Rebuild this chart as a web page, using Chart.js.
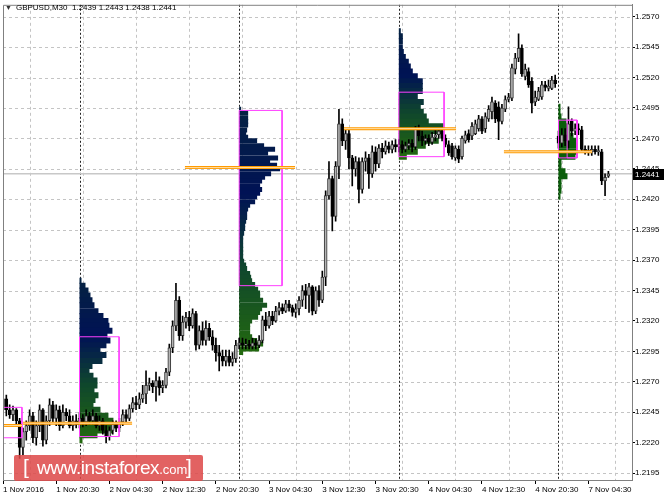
<!DOCTYPE html>
<html>
<head>
<meta charset="utf-8">
<script src="https://cdn.jsdelivr.net/npm/chart.js@4.4.0/dist/chart.umd.min.js"></script>
<style>
  html, body { margin: 0; padding: 0; background: #fff; }
  #wrap { position: relative; width: 664px; height: 498px; overflow: hidden; }
  #title { position: absolute; left: 5px; top: 3px; font: 8px "Liberation Sans", sans-serif; color: #000; white-space: pre; }
  #title .tri { font-size: 7px; color: #333; margin-right: 4px; }
  #logo { position: absolute; left: 14px; top: 455px; width: 189px; height: 26px; background: rgba(221, 72, 72, 0.86);
          border-radius: 2px; color: #fff; font-family: "Liberation Sans", sans-serif; }
  #logo span { position: absolute; }
  #logo .b1 { left: 9px; top: 0px; font-size: 21px; }
  #logo .site { left: 23px; top: 2px; font-size: 19px; letter-spacing: -0.4px; }
  #logo .site small { font-size: 13px; letter-spacing: 0; }
  #logo .b2 { left: 172px; top: 0px; font-size: 21px; }
</style>
</head>
<body>
<div id="wrap">
  <canvas id="chart" width="664" height="498"></canvas>
  <div id="title"></div>
  <div id="logo"><span class="b1">[</span><span class="site">www.instaforex<small>.com</small></span><span class="b2">]</span></div>
</div>
<script>
// GBPUSD M30, one bar every 30 min, bar 0 = 2 Nov 00:00
const symbol = "GBPUSD,M30";
const firstBar = -23;

const open = [
  1.2247,1.2256,1.2247,1.2243,1.2247,1.2238,1.2216,1.2229,1.2234,1.2242,1.2224,1.2234,1.2247,1.2222,1.2238,1.2251,1.2240,1.2247,1.2234,1.2245,1.2242,1.2234,1.2238,
  1.2235,1.2240,1.2237,1.2242,1.2238,1.2242,1.2234,1.2238,1.2230,1.2225,1.2230,1.2235,1.2232,1.2237,1.2243,1.2240,1.2248,1.2253,1.2251,1.2256,1.2260,1.2267,1.2269,1.2266,1.2271,1.2265,1.2267,1.2278,1.2298,1.2316,1.2337,1.2308,1.2319,1.2323,1.2316,1.2326,1.2300,1.2312,1.2304,1.2314,1.2307,1.2300,1.2294,1.2291,1.2287,1.2291,1.2286,1.2289,
  1.2300,1.2302,1.2300,1.2301,1.2299,1.2302,1.2300,1.2304,1.2321,1.2316,1.2324,1.2320,1.2328,1.2331,1.2328,1.2334,1.2331,1.2327,1.2330,1.2337,1.2345,1.2341,1.2348,1.2328,1.2345,1.2337,1.2356,1.2423,1.2437,1.2406,1.2447,1.2482,1.2468,1.2474,1.2454,1.2445,1.2451,1.2428,1.2451,1.2454,1.2441,1.2459,1.2449,1.2462,1.2459,1.2464,1.2461,1.2465,
  1.2463,1.2465,1.2461,1.2464,1.2466,1.2463,1.2478,1.2472,1.2468,1.2470,1.2467,1.2471,1.2473,1.2476,1.2470,1.2465,1.2464,1.2454,1.2461,1.2455,1.2468,1.2474,1.2472,1.2474,1.2478,1.2486,1.2478,1.2486,1.2492,1.2499,1.2496,1.2484,1.2494,1.2502,1.2503,1.2527,1.2536,1.2544,1.2521,1.2525,1.2517,1.2500,1.2502,1.2504,1.2514,1.2511,1.2511,1.2518,
  1.2472,1.2466,1.2473,1.2468,1.2484,1.2476,1.2478,1.2477,1.2461,1.2460,1.2459,1.2461,1.2459,1.2459,1.2435,1.2439
];
const high = [
  1.2263,1.2259,1.2251,1.2250,1.2248,1.2240,1.2232,1.2238,1.2247,1.2245,1.2238,1.2251,1.2248,1.2242,1.2256,1.2254,1.2251,1.2250,1.2251,1.2248,1.2247,1.2242,1.2243,
  1.2245,1.2243,1.2247,1.2245,1.2247,1.2244,1.2242,1.2240,1.2234,1.2233,1.2238,1.2238,1.2240,1.2247,1.2247,1.2251,1.2257,1.2258,1.2261,1.2267,1.2279,1.2273,1.2271,1.2278,1.2274,1.2271,1.2281,1.2301,1.2320,1.2351,1.2340,1.2324,1.2327,1.2328,1.2330,1.2328,1.2316,1.2319,1.2320,1.2318,1.2312,1.2306,1.2300,1.2296,1.2296,1.2296,1.2294,1.2304,
  1.2306,1.2306,1.2305,1.2304,1.2306,1.2305,1.2308,1.2324,1.2327,1.2328,1.2328,1.2332,1.2335,1.2334,1.2337,1.2337,1.2333,1.2334,1.2340,1.2349,1.2350,1.2351,1.2349,1.2348,1.2349,1.2361,1.2427,1.2451,1.2439,1.2451,1.2494,1.2486,1.2478,1.2478,1.2456,1.2455,1.2454,1.2454,1.2459,1.2457,1.2464,1.2463,1.2465,1.2466,1.2468,1.2467,1.2468,1.2469,
  1.2469,1.2468,1.2467,1.2469,1.2469,1.2480,1.2481,1.2476,1.2473,1.2473,1.2475,1.2478,1.2478,1.2478,1.2473,1.2468,1.2466,1.2464,1.2464,1.2472,1.2476,1.2477,1.2483,1.2485,1.2489,1.2488,1.2491,1.2497,1.2504,1.2501,1.2500,1.2498,1.2505,1.2507,1.2531,1.2540,1.2556,1.2547,1.2531,1.2528,1.2520,1.2509,1.2512,1.2517,1.2517,1.2518,1.2521,1.2522,
  1.2476,1.2478,1.2478,1.2496,1.2486,1.2482,1.2482,1.2480,1.2464,1.2464,1.2464,1.2464,1.2464,1.2461,1.2441,1.2443
];
const low = [
  1.2245,1.2242,1.2240,1.2238,1.2235,1.2207,1.2210,1.2222,1.2230,1.2220,1.2218,1.2229,1.2217,1.2219,1.2234,1.2237,1.2234,1.2230,1.2232,1.2238,1.2232,1.2230,1.2232,
  1.2232,1.2233,1.2234,1.2235,1.2235,1.2232,1.2230,1.2227,1.2220,1.2222,1.2227,1.2229,1.2229,1.2234,1.2237,1.2238,1.2245,1.2247,1.2248,1.2253,1.2252,1.2263,1.2261,1.2254,1.2259,1.2261,1.2265,1.2275,1.2294,1.2312,1.2304,1.2304,1.2314,1.2312,1.2314,1.2296,1.2297,1.2300,1.2300,1.2304,1.2296,1.2287,1.2279,1.2283,1.2283,1.2283,1.2283,1.2286,
  1.2297,1.2297,1.2297,1.2297,1.2297,1.2297,1.2298,1.2302,1.2312,1.2314,1.2317,1.2319,1.2325,1.2326,1.2327,1.2328,1.2324,1.2323,1.2325,1.2332,1.2330,1.2327,1.2325,1.2326,1.2332,1.2335,1.2349,1.2420,1.2394,1.2402,1.2437,1.2464,1.2461,1.2445,1.2431,1.2439,1.2417,1.2425,1.2443,1.2429,1.2438,1.2443,1.2446,1.2454,1.2457,1.2458,1.2458,1.2459,
  1.2459,1.2458,1.2459,1.2461,1.2459,1.2461,1.2468,1.2464,1.2465,1.2464,1.2465,1.2468,1.2470,1.2468,1.2463,1.2456,1.2453,1.2452,1.2450,1.2453,1.2466,1.2467,1.2469,1.2473,1.2476,1.2474,1.2475,1.2484,1.2486,1.2483,1.2469,1.2482,1.2492,1.2500,1.2501,1.2523,1.2533,1.2521,1.2518,1.2512,1.2491,1.2497,1.2501,1.2502,1.2509,1.2509,1.2510,1.2512,
  1.2462,1.2463,1.2464,1.2462,1.2472,1.2473,1.2473,1.2459,1.2457,1.2456,1.2456,1.2457,1.2456,1.2432,1.2423,1.2438
];
const close = [
  1.2256,1.2247,1.2243,1.2247,1.2238,1.2216,1.2229,1.2234,1.2242,1.2224,1.2234,1.2247,1.2222,1.2238,1.2251,1.2240,1.2247,1.2234,1.2245,1.2242,1.2234,1.2238,1.2235,
  1.2240,1.2237,1.2242,1.2238,1.2242,1.2234,1.2238,1.2230,1.2225,1.2230,1.2235,1.2232,1.2237,1.2243,1.2240,1.2248,1.2253,1.2251,1.2256,1.2260,1.2267,1.2269,1.2266,1.2271,1.2265,1.2267,1.2278,1.2298,1.2316,1.2337,1.2308,1.2319,1.2323,1.2316,1.2326,1.2300,1.2312,1.2304,1.2314,1.2307,1.2300,1.2294,1.2291,1.2287,1.2291,1.2286,1.2289,1.2300,
  1.2302,1.2300,1.2301,1.2299,1.2302,1.2300,1.2304,1.2321,1.2316,1.2324,1.2320,1.2328,1.2331,1.2328,1.2334,1.2331,1.2327,1.2330,1.2337,1.2345,1.2341,1.2348,1.2328,1.2345,1.2337,1.2356,1.2423,1.2437,1.2406,1.2447,1.2482,1.2468,1.2474,1.2454,1.2445,1.2451,1.2428,1.2451,1.2454,1.2441,1.2459,1.2449,1.2462,1.2459,1.2464,1.2461,1.2465,1.2463,
  1.2465,1.2461,1.2464,1.2466,1.2463,1.2478,1.2472,1.2468,1.2470,1.2467,1.2471,1.2473,1.2476,1.2470,1.2465,1.2458,1.2455,1.2462,1.2453,1.2470,1.2473,1.2469,1.2480,1.2482,1.2486,1.2476,1.2488,1.2494,1.2500,1.2486,1.2484,1.2495,1.2502,1.2504,1.2528,1.2536,1.2544,1.2523,1.2527,1.2514,1.2499,1.2504,1.2509,1.2514,1.2512,1.2513,1.2518,1.2515,
  1.2466,1.2473,1.2468,1.2482,1.2476,1.2478,1.2477,1.2461,1.2460,1.2459,1.2461,1.2459,1.2460,1.2435,1.2438,1.2441
];

// axis
const tickBars = [-23, -7, 9, 25, 41, 57, 73, 89, 105, 121, 137, 153];
const tickLabels = ["1 Nov 2016", "1 Nov 20:30", "2 Nov 04:30", "2 Nov 12:30", "2 Nov 20:30", "3 Nov 04:30",
                    "3 Nov 12:30", "3 Nov 20:30", "4 Nov 04:30", "4 Nov 12:30", "4 Nov 20:30", "7 Nov 04:30"];
const gridBars = [-15, 1, 17, 33, 49, 65, 81, 97, 113, 129, 145, 161];
const daySeps = [0, 48, 96, 144];
const yTicks = [1.2195, 1.2220, 1.2245, 1.2270, 1.2295, 1.2320, 1.2345, 1.2370, 1.2395,
                1.2420, 1.2445, 1.2470, 1.2495, 1.2520, 1.2545, 1.2570];

// daily market profiles (price level -> volume)
const profStart = [0, 48, 96, 144];
const prof1Levels = [1.2353,1.2349,1.2345,1.2341,1.2337,1.2333,1.2328,1.2324,1.2320,1.2316,1.2312,1.2308,1.2304,1.2300,1.2296,1.2292,1.2287,1.2283,1.2279,1.2275,1.2271,1.2267,1.2263,1.2259,1.2255,1.2251,1.2247,1.2242,1.2238,1.2234,1.2230,1.2226,1.2222];
const prof1Vol = [2,6,9,11,13,15,19,24,29,30,33,28,31,27,21,27,23,13,10,14,18,18,15,19,16,14,21,29,34,38,33,18,3];
const prof2Levels = [1.2494,1.2491,1.2487,1.2484,1.2481,1.2477,1.2474,1.2471,1.2468,1.2464,1.2461,1.2458,1.2454,1.2451,1.2448,1.2445,1.2441,1.2438,1.2435,1.2431,1.2428,1.2425,1.2422,1.2418,1.2415,1.2412,1.2409,1.2405,1.2402,1.2399,1.2396,1.2392,1.2389,1.2386,1.2382,1.2379,1.2376,1.2373,1.2369,1.2366,1.2363,1.2359,1.2356,1.2353,1.2350,1.2346,1.2343,1.2340,1.2337,1.2333,1.2330,1.2327,1.2323,1.2320,1.2317,1.2314,1.2310,1.2307,1.2304,1.2301,1.2297,1.2294];
const prof2Vol = [2,9,9,9,9,8,7,9,18,25,36,29,39,31,38,41,32,26,23,21,23,21,18,16,11,9,8,8,7,6,6,5,4,4,4,4,4,4,5,7,8,11,12,13,16,19,21,21,24,28,23,21,19,13,11,11,11,13,18,24,20,4];
const prof3Levels = [1.2558,1.2554,1.2550,1.2545,1.2541,1.2537,1.2533,1.2529,1.2525,1.2521,1.2517,1.2513,1.2509,1.2504,1.2500,1.2496,1.2492,1.2488,1.2484,1.2480,1.2476,1.2472,1.2468,1.2464,1.2459,1.2455];
const prof3Vol = [2,4,4,4,5,7,10,12,14,19,24,24,24,19,25,22,25,28,30,45,44,32,40,27,19,8];
const prof4Levels = [1.2496,1.2492,1.2488,1.2484,1.2480,1.2476,1.2472,1.2468,1.2464,1.2459,1.2455,1.2451,1.2447,1.2443,1.2439,1.2435,1.2431,1.2427,1.2422];
const prof4Vol = [2,2,3,8,10,12,15,18,19,19,17,3,3,7,9,3,3,3,2];
const volToBars = 0.3;

// value areas [fromBar, toBar, high, low] and POC [fromBar, toBar, level]
const valueAreas = [[-23, -17.3, 1.2249, 1.2224], [0, 11.9, 1.2307, 1.2225], [48, 60.9, 1.2493, 1.2349],
                    [96, 109.6, 1.2508, 1.2455], [144, 149.6, 1.2485, 1.2454], [146.6, 149.6, 1.2485, 1.2454]];
const pocLines = [[-23, -17.3, 1.2234], [-17, 15.8, 1.2236], [31.7, 64.8, 1.2446], [79.5, 113.2, 1.2478], [127.6, 154.1, 1.2459]];

const last = close.length - 1;
document.getElementById("title").innerHTML =
  '<span class="tri">&#9660;</span>' + symbol + "  " +
  [open[last], high[last], low[last], close[last]].map(v => v.toFixed(4)).join(" ");

// BUILD DATASETS
const bodies = open.map((o, i) => ({ x: firstBar + i, y: [o, close[i]] }));
const wicks = high.map((h, i) => ({ x: firstBar + i, y: [low[i], h] }));
const isUp = i => close[i] >= open[i];

function profilePoints(start, levels, vols) {
  const pts = [];
  levels.forEach((p, i) => {
    pts.push({ x: start, y: p }, { x: start + vols[i] * volToBars, y: p }, { x: start, y: null });
  });
  return pts;
}

// navy at the top of a day's range, green at the bottom
const stops = [[0, [35, 105, 15]], [0.35, [15, 70, 45]], [0.65, [0, 18, 85]], [1, [5, 34, 66]]];
function profColor(levels) {
  const hi = levels[0], lo = levels[levels.length - 1];
  return ctx => {
    const t = (ctx.p0.parsed.y - lo) / (hi - lo);
    for (let s = 1; s < stops.length; s++) {
      if (t <= stops[s][0]) {
        const a = stops[s - 1], b = stops[s], f = (t - a[0]) / (b[0] - a[0]);
        const c = a[1].map((v, k) => Math.round(v + (b[1][k] - v) * f));
        return `rgb(${c[0]},${c[1]},${c[2]})`;
      }
    }
    return "rgb(5,34,66)";
  };
}

function profileDataset(start, levels, vols, width, color) {
  return {
    type: "line", data: profilePoints(start, levels, vols), order: 5,
    borderWidth: width, borderCapStyle: "butt", pointRadius: 0, spanGaps: false,
    borderColor: "#0a5a0a", segment: { borderColor: color }
  };
}

const boxPoints = [];
valueAreas.forEach(([a, b, hi, lo]) => {
  boxPoints.push({ x: a, y: hi }, { x: b, y: hi }, { x: b, y: lo }, { x: a, y: lo }, { x: a, y: hi }, { x: a, y: null });
});
const pocPoints = [];
pocLines.forEach(([a, b, p]) => pocPoints.push({ x: a, y: p }, { x: b, y: p }, { x: a, y: null }));

// GRID, SEPARATORS, BID LINE
const decor = {
  id: "decor",
  beforeDatasetsDraw(chart) {
    const { ctx, chartArea: a, scales: { x, y } } = chart;
    ctx.save();
    ctx.lineWidth = 1;
    ctx.strokeStyle = "#c4c4c4";
    ctx.setLineDash([3, 3]);
    ctx.beginPath();
    yTicks.forEach(v => {
      const py = Math.round(y.getPixelForValue(v)) + 0.5;
      ctx.moveTo(a.left, py); ctx.lineTo(a.right, py);
    });
    gridBars.forEach(v => {
      const px = Math.round(x.getPixelForValue(v)) + 0.5;
      ctx.moveTo(px, a.top); ctx.lineTo(px, a.bottom);
    });
    ctx.stroke();
    ctx.strokeStyle = "#222";
    ctx.setLineDash([2, 2]);
    ctx.beginPath();
    daySeps.forEach(v => {
      const px = Math.round(x.getPixelForValue(v)) + 0.5;
      ctx.moveTo(px, a.top); ctx.lineTo(px, a.bottom);
    });
    ctx.stroke();
    ctx.setLineDash([]);
    ctx.strokeStyle = "#c8c8c8";
    ctx.lineWidth = 1.5;
    const by = y.getPixelForValue(close[last]);
    ctx.beginPath(); ctx.moveTo(a.left, by); ctx.lineTo(a.right, by); ctx.stroke();
    ctx.restore();
  },
  afterDraw(chart) {
    const { ctx, chartArea: a, scales: { y } } = chart;
    ctx.save();
    ctx.strokeStyle = "#808080";
    ctx.lineWidth = 1;
    ctx.beginPath();
    ctx.moveTo(a.left + 0.5, a.bottom); ctx.lineTo(a.left + 0.5, a.top + 0.5); ctx.lineTo(a.right, a.top + 0.5);
    ctx.stroke();
    const by = Math.round(y.getPixelForValue(close[last]));
    ctx.fillStyle = "#000";
    ctx.fillRect(a.right + 1, by - 5, 31, 11);
    ctx.fillStyle = "#fff";
    ctx.font = '8px "Liberation Sans"';
    ctx.textBaseline = "middle";
    ctx.fillText(close[last].toFixed(4), a.right + 3, by + 0.5);
    ctx.restore();
  }
};

const axisFont = { family: "Liberation Sans", size: 8 };

new Chart(document.getElementById("chart"), {
  type: "bar",
  data: {
    datasets: [
      { type: "line", data: pocPoints, order: 0, borderColor: "#ffe2b0", borderWidth: 1, pointRadius: 0 },
      { type: "line", data: pocPoints, order: 1, borderColor: "#ff9a00", borderWidth: 3, pointRadius: 0 },
      { type: "line", data: boxPoints, order: 1, borderColor: "#ff40ff", borderWidth: 1, pointRadius: 0 },
      {
        data: bodies, order: 2, grouped: false, barThickness: 3, minBarLength: 1, borderSkipped: false,
        backgroundColor: c => isUp(c.dataIndex) ? "#b4b4b4" : "#000",
        borderColor: c => isUp(c.dataIndex) ? "#333" : "#000", borderWidth: 1
      },
      { data: wicks, order: 3, grouped: false, barThickness: 1, backgroundColor: "#000", borderWidth: 0 },
      profileDataset(profStart[0], prof1Levels, prof1Vol, 6, profColor(prof1Levels)),
      profileDataset(profStart[1], prof2Levels, prof2Vol, 5, profColor(prof2Levels)),
      profileDataset(profStart[2], prof3Levels, prof3Vol, 6, profColor(prof3Levels)),
      profileDataset(profStart[3], prof4Levels, prof4Vol, 6, () => "#0b5e0b")
    ]
  },
  options: {
    responsive: false,
    animation: false,
    layout: { padding: { left: 3, top: 3, right: 0, bottom: 0 } },
    plugins: { legend: { display: false }, tooltip: { enabled: false } },
    scales: {
      x: {
        type: "linear", min: -23, max: 166.1, offset: false,
        afterBuildTicks: s => { s.ticks = tickBars.map(v => ({ value: v })); },
        afterFit: s => { s.height = 18; },
        grid: { drawOnChartArea: false, offset: false, tickLength: 4, tickColor: "#000" },
        border: { color: "#808080" },
        ticks: {
          autoSkip: false, maxRotation: 0, minRotation: 0, align: "start", padding: 1,
          color: "#000", font: axisFont, callback: (v, i) => tickLabels[i]
        }
      },
      y: {
        position: "right", min: 1.21893, max: 1.25798,
        afterBuildTicks: s => { s.ticks = yTicks.map(v => ({ value: v })); },
        afterFit: s => { s.width = 32; },
        grid: { drawOnChartArea: false, tickLength: 3, tickColor: "#000" },
        border: { color: "#808080" },
        ticks: { padding: 0, color: "#000", font: axisFont, callback: v => v.toFixed(4) }
      }
    }
  },
  plugins: [decor]
});
</script>
</body>
</html>
